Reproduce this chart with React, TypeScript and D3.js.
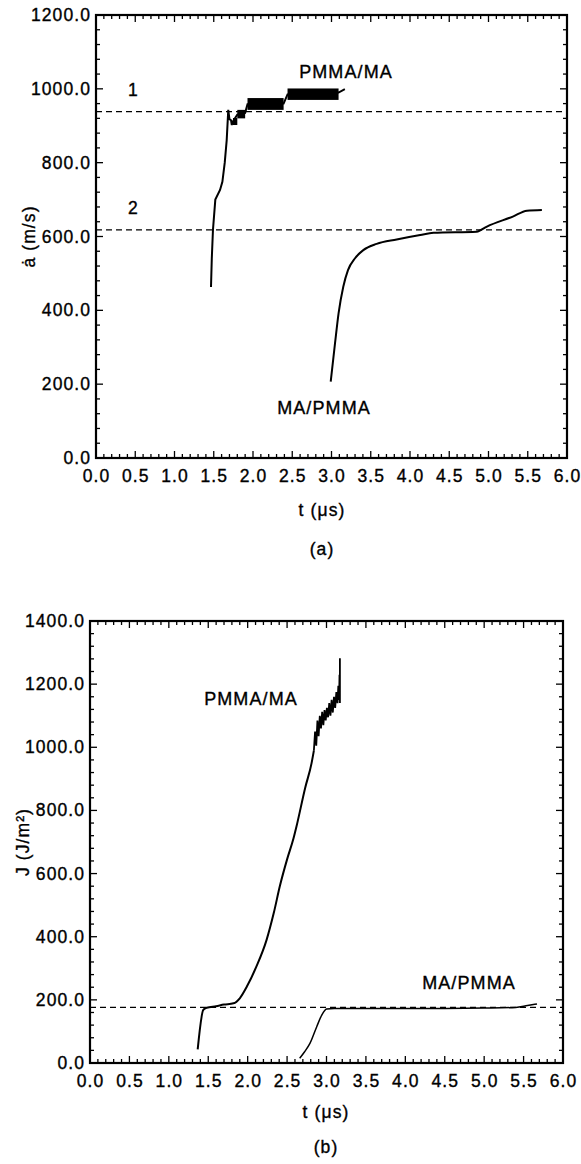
import React from "react";
import * as d3 from "d3";

// ---- panel (a): crack-tip speed ----
const aPmmaMaT = [1.465, 1.475, 1.49, 1.52, 1.58, 1.61, 1.64, 1.665, 1.685, 1.70, 1.72, 1.73, 1.745, 1.80, 1.90, 1.93, 2.39, 2.44, 3.09, 3.17];
const aPmmaMaV = [463, 540, 618, 700, 726, 748, 800, 861, 943, 918, 915, 902, 912, 930, 935, 958, 960, 985, 990, 999];
// oscillation envelopes on the PMMA/MA plateau steps
const aBandStart = [1.745, 1.80, 1.93, 2.44];
const aBandEnd = [1.80, 1.90, 2.39, 3.09];
const aBandLo = [902, 920, 943, 970];
const aBandHi = [921, 943, 975, 1001];

const aMaPmmaT = [2.99, 3.045, 3.09, 3.15, 3.21, 3.30, 3.405, 3.575, 3.83, 4.13, 4.30, 4.85, 4.98, 5.31, 5.49, 5.68];
const aMaPmmaV = [207, 311, 392, 464, 509, 541, 563, 580, 592, 604, 610, 613, 627, 654, 670, 672];

const aRefLevels = [938, 618];
const aRefLabels = ["1", "2"];

// ---- panel (b): energy release rate ----
const bPmmaMaT = [1.366, 1.437, 1.48, 1.60, 1.70, 1.82, 1.90, 1.99, 2.11, 2.24, 2.33, 2.41, 2.50, 2.58, 2.62, 2.73, 2.81, 2.84];
const bPmmaMaV = [43, 168, 175, 180, 185, 189, 205, 242, 305, 390, 474, 562, 645, 710, 750, 872, 949, 990];
// jagged end of the PMMA/MA trace
const bNoiseT = [2.84, 2.855, 2.87, 2.885, 2.90, 2.915, 2.93, 2.945, 2.96, 2.975, 2.99, 3.005, 3.02, 3.035, 3.05, 3.065, 3.08, 3.095, 3.11, 3.125, 3.14, 3.15, 3.16, 3.165, 3.17, 3.17];
const bNoiseV = [990, 1050, 1005, 1085, 1035, 1100, 1060, 1112, 1070, 1118, 1085, 1125, 1095, 1140, 1100, 1150, 1110, 1160, 1125, 1175, 1140, 1195, 1150, 1230, 1140, 1282];

const bMaPmmaT = [2.66, 2.72, 2.79, 2.876, 2.94, 3.0, 3.1, 3.5, 4.0, 4.5, 5.0, 5.4, 5.55, 5.67];
const bMaPmmaV = [15, 35, 62, 115, 152, 171, 173, 173, 173, 173, 174, 176, 182, 187];

const bRefLevel = 176;

const xTickValues = d3.range(0, 6.01, 0.5);
const fmt = d3.format(".1f");

const FONT = "'Liberation Sans', Arial, Helvetica, sans-serif";
const LS = 1.1;
const TEXT_STROKE = 0.35;

type Box = { left: number; right: number; top: number; bottom: number };

function Frame({ box, x, y, yMax, yLabel, yLabelX, caption, captionY, titleY, titleX }: any) {
  const minorX = d3.range(0, 61).map((i) => i / 10);
  const minorY = d3.range(0, yMax / 40 + 1).map((i) => i * 40);
  const majorY = d3.range(0, yMax + 1, 200);
  const els: any[] = [];
  minorX.forEach((t, i) => {
    const major = i % 5 === 0;
    const len = major ? 7 : 4;
    const px = x(t);
    els.push(<line key={"xb" + i} x1={px} x2={px} y1={box.bottom} y2={box.bottom - len} />);
    els.push(<line key={"xt" + i} x1={px} x2={px} y1={box.top} y2={box.top + len} />);
  });
  minorY.forEach((v, i) => {
    const major = v % 200 === 0;
    const len = major ? 7 : 4;
    const py = y(v);
    els.push(<line key={"yl" + i} x1={box.left} x2={box.left + len} y1={py} y2={py} />);
    els.push(<line key={"yr" + i} x1={box.right} x2={box.right - len} y1={py} y2={py} />);
  });
  return (
    <g>
      <g stroke="#000" strokeWidth={1.3}>{els}</g>
      <rect x={box.left} y={box.top} width={box.right - box.left} height={box.bottom - box.top} fill="none" stroke="#000" strokeWidth={2.2} />
      <g fontFamily={FONT} fontSize={17.5} letterSpacing={LS} fill="#000" stroke="#000" strokeWidth={TEXT_STROKE}>
        {xTickValues.map((t) => (
          <text key={"xl" + t} x={x(t) + LS / 2} y={box.bottom + 18} textAnchor="middle" dominantBaseline="central">{fmt(t)}</text>
        ))}
        {majorY.map((v) => (
          <text key={"yl" + v} x={box.left - 6 + LS} y={y(v)} textAnchor="end" dominantBaseline="central">{fmt(v)}</text>
        ))}
        <text x={titleX} y={titleY} textAnchor="middle">t (μs)</text>
        <text x={titleX} y={captionY} textAnchor="middle">{caption}</text>
        <text transform={`translate(${yLabelX},${(box.top + box.bottom) / 2}) rotate(-90)`} textAnchor="middle">{yLabel}</text>
      </g>
    </g>
  );
}

export default function App() {
  const pathFrom = (xs: number[], vs: number[], xsc: any, ysc: any, curve: any = d3.curveLinear) =>
    d3.line<number>().curve(curve).x((t) => xsc(t)).y((_, i) => ysc(vs[i]))(xs) as string;

  // panel (a)
  const boxA: Box = { left: 96, right: 567, top: 15, bottom: 458 };
  const xA = d3.scaleLinear().domain([0, 6]).range([boxA.left, boxA.right]);
  const yA = d3.scaleLinear().domain([0, 1200]).range([boxA.bottom, boxA.top]);

  // panel (b)
  const boxB: Box = { left: 90, right: 563, top: 621, bottom: 1063 };
  const xB = d3.scaleLinear().domain([0, 6]).range([boxB.left, boxB.right]);
  const yB = d3.scaleLinear().domain([0, 1400]).range([boxB.bottom, boxB.top]);

  return (
    <svg width={581} height={1164} style={{ position: "absolute", left: 0, top: 0, background: "#fff" }}>
      <rect width={581} height={1164} fill="#fff" />
      {/* (a) */}
      <Frame box={boxA} x={xA} y={yA} yMax={1200} yLabel="ȧ (m/s)" yLabelX={35} caption="(a)" titleX={322} titleY={516} captionY={555} />
      {aRefLevels.map((v) => (
        <line key={"ra" + v} x1={boxA.left} x2={boxA.right} y1={yA(v)} y2={yA(v)} stroke="#000" strokeWidth={1.3} strokeDasharray="6,4" />
      ))}
      <g fontFamily={FONT} fontSize={17.5} fill="#000" stroke="#000" strokeWidth={TEXT_STROKE}>
        {aRefLevels.map((v, i) => (
          <text key={"rl" + i} x={xA(0.47)} y={yA(v) - 22} textAnchor="middle" dominantBaseline="central">{aRefLabels[i]}</text>
        ))}
      </g>
      <path d={pathFrom(aPmmaMaT, aPmmaMaV, xA, yA)} fill="none" stroke="#000" strokeWidth={2} />
      {aBandStart.map((t0, i) => (
        <rect key={"ba" + i} x={xA(t0)} y={yA(aBandHi[i])} width={xA(aBandEnd[i]) - xA(t0)} height={yA(aBandLo[i]) - yA(aBandHi[i])} fill="#000" />
      ))}
      <path d={pathFrom(aMaPmmaT, aMaPmmaV, xA, yA, d3.curveMonotoneX)} fill="none" stroke="#000" strokeWidth={2} />
      <g fontFamily={FONT} fontSize={18} letterSpacing={LS} fill="#000" stroke="#000" strokeWidth={TEXT_STROKE}>
        <text x={346} y={72} textAnchor="middle" dominantBaseline="central">PMMA/MA</text>
        <text x={324} y={408} textAnchor="middle" dominantBaseline="central">MA/PMMA</text>
      </g>

      {/* (b) */}
      <Frame box={boxB} x={xB} y={yB} yMax={1400} yLabel="J (J/m²)" yLabelX={29} caption="(b)" titleX={326} titleY={1118} captionY={1153} />
      <line x1={boxB.left} x2={boxB.right} y1={yB(bRefLevel)} y2={yB(bRefLevel)} stroke="#000" strokeWidth={1.3} strokeDasharray="6,4" />
      <path d={pathFrom(bPmmaMaT, bPmmaMaV, xB, yB, d3.curveMonotoneX)} fill="none" stroke="#000" strokeWidth={2} />
      <path d={pathFrom(bNoiseT, bNoiseV, xB, yB)} fill="none" stroke="#000" strokeWidth={1.8} strokeLinejoin="miter" />
      <path d={pathFrom(bMaPmmaT, bMaPmmaV, xB, yB, d3.curveMonotoneX)} fill="none" stroke="#000" strokeWidth={1.5} />
      <g fontFamily={FONT} fontSize={18} letterSpacing={LS} fill="#000" stroke="#000" strokeWidth={TEXT_STROKE}>
        <text x={251} y={699} textAnchor="middle" dominantBaseline="central">PMMA/MA</text>
        <text x={469} y={983} textAnchor="middle" dominantBaseline="central">MA/PMMA</text>
      </g>
    </svg>
  );
}
